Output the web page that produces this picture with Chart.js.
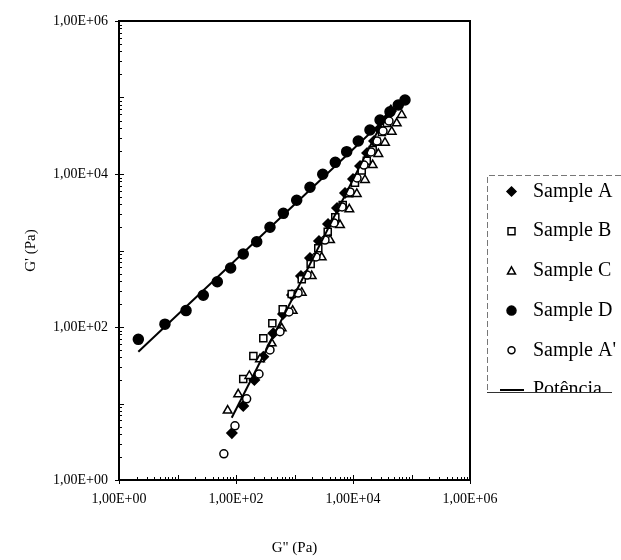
<!DOCTYPE html>
<html>
<head>
<meta charset="utf-8">
<script src="https://cdn.jsdelivr.net/npm/chart.js@4.4.1/dist/chart.umd.min.js"></script>
<style>
  html, body { margin: 0; padding: 0; background: #fff; }
  #wrap { width: 621px; height: 560px; }
</style>
</head>
<body>
<div id="wrap"><canvas id="chart" width="621" height="560"></canvas></div>
<script>
// tick values / labels (both axes share the same decades)
const tickValues = [1, 1e2, 1e4, 1e6];
const tickLabels = ['1,00E+00', '1,00E+02', '1,00E+04', '1,00E+06'];

// G'' (x) and G' (y) for each sample, in Pa
const sampleA_Gpp = [85, 133, 206, 293, 434, 636, 906, 1290, 1840, 2620, 3740, 5330, 7300, 10000, 13200, 17400, 22900, 29000, 36700, 44700];
const sampleA_Gp = [4.1, 9.3, 20.3, 40.9, 82.7, 148, 262, 464, 798, 1330, 2220, 3590, 5650, 8600, 12700, 18800, 27000, 37600, 50800, 66700];

const sampleB_Gpp = [133, 198, 293, 418, 629, 896, 1330, 1890, 2550, 3700, 4980, 6670, 8650, 10800, 14100, 17200, 21700, 25400, 31300, 38100];
const sampleB_Gp = [20.9, 41.8, 71.2, 112, 170, 270, 420, 666, 1070, 1760, 2720, 3940, 5600, 7700, 11100, 14900, 20600, 26400, 35400, 46400];

const sampleC_Gpp = [72, 109, 169, 257, 408, 604, 931, 1330, 1970, 2920, 4050, 6000, 8650, 11600, 16000, 21700, 27100, 35200, 45900, 55900, 68000];
const sampleC_Gp = [8.1, 13.2, 22.9, 37.8, 61.2, 96.2, 163, 281, 464, 815, 1370, 2150, 3460, 5480, 8350, 13100, 18300, 25700, 35700, 46000, 59100];

const sampleD_Gpp = [2.14, 6.1, 14, 27.6, 47.9, 81, 133, 226, 381, 644, 1090, 1840, 3040, 4980, 7800, 12300, 19500, 29000, 42900, 59400, 77400];
const sampleD_Gp = [69, 109, 164, 260, 391, 591, 900, 1300, 2010, 3060, 4530, 6700, 9910, 14200, 19600, 27000, 37600, 50800, 65200, 79800, 92700];

const sampleA2_Gpp = [62, 96, 152, 247, 381, 565, 805, 1150, 1640, 2330, 3320, 4730, 6490, 8890, 11700, 15400, 20300, 25700, 32600, 41200];
const sampleA2_Gp = [2.2, 5.1, 11.5, 24.3, 50.1, 86.8, 157, 278, 478, 822, 1370, 2290, 3710, 5820, 8870, 13100, 19400, 27000, 36500, 49300];

// power-law trendlines ("Potência"), end points
const fitD_Gpp = [2.14, 77400];
const fitD_Gp = [47.5, 92000];
const fitABC_Gpp = [84.5, 45000];
const fitABC_Gp = [6.5, 80700];

Chart.defaults.font.family = '"Liberation Serif", "Times New Roman", serif';
Chart.defaults.color = '#000';

function toPoints(xs, ys) {
    return xs.map((x, i) => ({ x: x, y: ys[i] }));
}

function formatTick(value) {
    const i = tickValues.findIndex(v => Math.abs(Math.log10(v) - Math.log10(value)) < 1e-6);
    return i >= 0 ? tickLabels[i] : '';
}

// small marker painter, used for the legend
function drawMarker(ctx, style, x, y, r, filled) {
    ctx.beginPath();
    if (style === 'circle') {
        ctx.arc(x, y, r, 0, Math.PI * 2);
    } else if (style === 'rect') {
        ctx.rect(x - r, y - r, 2 * r, 2 * r);
    } else if (style === 'rectRot') {
        ctx.moveTo(x, y - r);
        ctx.lineTo(x + r, y);
        ctx.lineTo(x, y + r);
        ctx.lineTo(x - r, y);
        ctx.closePath();
    } else if (style === 'triangle') {
        ctx.moveTo(x, y - r);
        ctx.lineTo(x + r, y + r * 0.8);
        ctx.lineTo(x - r, y + r * 0.8);
        ctx.closePath();
    }
    ctx.fillStyle = filled ? '#000' : '#fff';
    ctx.fill();
    ctx.strokeStyle = '#000';
    ctx.lineWidth = 1.5;
    ctx.stroke();
}

// box around the plot area + inward log ticks
const frameTicks = {
    id: 'frameTicks',
    afterDatasetsDraw(chart) {
        const { ctx, chartArea: a, scales } = chart;
        ctx.save();
        ctx.strokeStyle = '#000';
        ctx.lineWidth = 1;
        for (let d = 0; d <= 6; d++) {
            for (let m = 1; m < 10; m++) {
                const v = m * Math.pow(10, d);
                if (v > 1e6) break;
                const labelled = m === 1 && tickValues.includes(v);
                const len = m === 1 ? 5 : 3;
                const px = Math.round(scales.x.getPixelForValue(v)) + 0.5;
                ctx.beginPath();
                ctx.moveTo(px, a.bottom + (labelled ? 4 : 0));
                ctx.lineTo(px, a.bottom - len);
                ctx.stroke();
                const py = Math.round(scales.y.getPixelForValue(v)) + 0.5;
                ctx.beginPath();
                ctx.moveTo(a.left - (labelled ? 4 : 0), py);
                ctx.lineTo(a.left + len, py);
                ctx.stroke();
            }
        }
        ctx.lineWidth = 2;
        ctx.strokeRect(a.left, a.top, a.right - a.left, a.bottom - a.top);
        ctx.restore();
    }
};

// the clipped legend box on the right
const legendBox = {
    id: 'legendBox',
    afterDraw(chart) {
        const ctx = chart.ctx;
        const box = { left: 487, top: 175, right: 621, bottom: 392 };
        const items = chart.data.datasets.filter(ds => !ds.hideInLegend);
        ctx.save();
        ctx.beginPath();
        ctx.rect(box.left, box.top, box.right - box.left, box.bottom - box.top);
        ctx.clip();
        ctx.font = '20px "Liberation Serif", "Times New Roman", serif';
        ctx.textBaseline = 'middle';
        items.forEach((ds, i) => {
            const y = 191.5 + i * 39.7;
            if (ds.showLine) {
                ctx.strokeStyle = '#000';
                ctx.lineWidth = 2;
                ctx.beginPath();
                ctx.moveTo(500, y);
                ctx.lineTo(524, y);
                ctx.stroke();
            } else {
                drawMarker(ctx, ds.pointStyle, 511.5, y, ds.legendRadius, ds.pointBackgroundColor === '#000');
            }
            ctx.fillStyle = '#000';
            ctx.fillText(ds.label, 533, y);
        });
        ctx.restore();

        ctx.save();
        ctx.strokeStyle = '#777';
        ctx.lineWidth = 1;
        ctx.setLineDash([6, 3]);
        ctx.beginPath();
        ctx.moveTo(621, box.top + 0.5);
        ctx.lineTo(box.left + 0.5, box.top + 0.5);
        ctx.lineTo(box.left + 0.5, box.bottom + 0.5);
        ctx.stroke();
        ctx.setLineDash([]);
        ctx.strokeStyle = '#333';
        ctx.beginPath();
        ctx.moveTo(box.left, box.bottom + 0.5);
        ctx.lineTo(612, box.bottom + 0.5);
        ctx.stroke();
        ctx.restore();
    }
};

// higher order = drawn earlier (underneath), like the series order in the original
function sampleSet(label, xs, ys, style, filled, radius, legendRadius, order) {
    return {
        label: label,
        data: toPoints(xs, ys),
        order: order,
        pointStyle: style,
        pointRadius: radius,
        legendRadius: legendRadius,
        pointBackgroundColor: filled ? '#000' : '#fff',
        pointBorderColor: '#000',
        pointBorderWidth: 1.5,
        showLine: false
    };
}

const chartEl = document.getElementById('chart');

new Chart(chartEl, {
    type: 'scatter',
    data: {
        datasets: [
            sampleSet('Sample A', sampleA_Gpp, sampleA_Gp, 'rectRot', true, 5, 4.5, 6),
            sampleSet('Sample B', sampleB_Gpp, sampleB_Gp, 'rect', false, 5, 3.5, 5),
            sampleSet('Sample C', sampleC_Gpp, sampleC_Gp, 'triangle', false, 5, 4, 4),
            sampleSet('Sample D', sampleD_Gpp, sampleD_Gp, 'circle', true, 5, 4.5, 3),
            sampleSet("Sample A'", sampleA2_Gpp, sampleA2_Gp, 'circle', false, 4, 3.5, 2),
            {
                label: 'Potência',
                data: toPoints(fitD_Gpp, fitD_Gp),
                order: 1,
                showLine: true,
                borderColor: '#000',
                borderWidth: 2,
                pointRadius: 0
            },
            {
                label: 'Potência',
                data: toPoints(fitABC_Gpp, fitABC_Gp),
                order: 0,
                showLine: true,
                hideInLegend: true,
                borderColor: '#000',
                borderWidth: 2,
                pointRadius: 0
            }
        ]
    },
    options: {
        responsive: false,
        animation: false,
        devicePixelRatio: 1,
        layout: { padding: { top: 21, right: 151, left: 0, bottom: 0 } },
        plugins: {
            legend: { display: false },
            tooltip: { enabled: false }
        },
        scales: {
            x: {
                type: 'logarithmic',
                position: 'bottom',
                min: 1,
                max: 1e6,
                afterBuildTicks: scale => { scale.ticks = tickValues.map(v => ({ value: v })); },
                afterFit: scale => { scale.height = 80; },
                ticks: {
                    callback: formatTick,
                    autoSkip: false,
                    maxRotation: 0,
                    padding: 3,
                    font: { size: 14 }
                },
                grid: { color: 'rgba(0,0,0,0)', drawOnChartArea: false, tickLength: 8 },
                border: { display: false },
                title: { display: true, text: 'G" (Pa)', font: { size: 15 }, padding: { top: 0, bottom: 3 } }
            },
            y: {
                type: 'logarithmic',
                position: 'left',
                min: 1,
                max: 1e6,
                afterBuildTicks: scale => { scale.ticks = tickValues.map(v => ({ value: v })); },
                afterFit: scale => { scale.width = 119; },
                ticks: {
                    callback: formatTick,
                    autoSkip: false,
                    padding: 3,
                    font: { size: 14 }
                },
                grid: { color: 'rgba(0,0,0,0)', drawOnChartArea: false, tickLength: 8 },
                border: { display: false },
                title: { display: true, text: "G' (Pa)", font: { size: 15 }, padding: { top: 22, bottom: 0 } }
            }
        }
    },
    plugins: [frameTicks, legendBox]
});
</script>
</body>
</html>
